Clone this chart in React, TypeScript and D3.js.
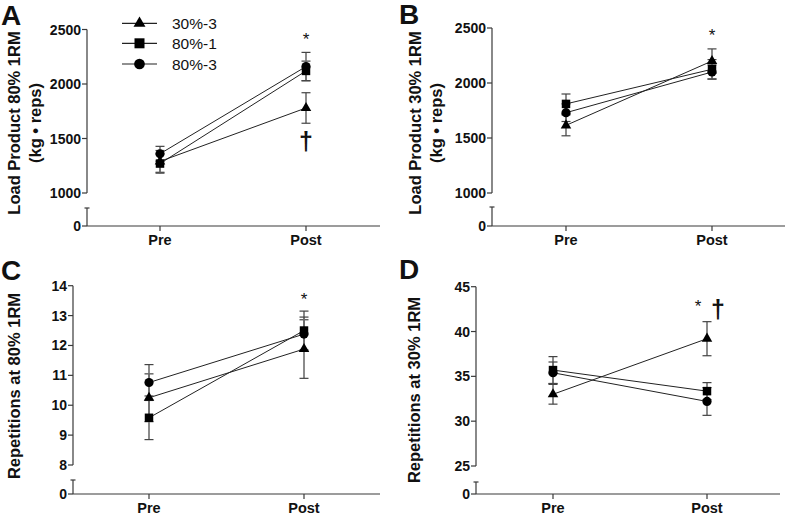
import React from "react";
import * as d3 from "d3";

// ---------- data ----------
const PHASES = ["Pre", "Post"];
const GROUPS = ["30%-3", "80%-1", "80%-3"];
const SYMBOL_TYPES = [d3.symbolTriangle, d3.symbolSquare, d3.symbolCircle];

// Panel A: Load Product 80% 1RM
const A_MEAN_30_3 = [1290, 1780];
const A_SEM_30_3 = [100, 140];
const A_MEAN_80_1 = [1270, 2120];
const A_SEM_80_1 = [88, 90];
const A_MEAN_80_3 = [1360, 2160];
const A_SEM_80_3 = [68, 130];
const A_TICKS = [1000, 1500, 2000, 2500];

// Panel B: Load Product 30% 1RM
const B_MEAN_30_3 = [1615, 2200];
const B_SEM_30_3 = [95, 110];
const B_MEAN_80_1 = [1810, 2125];
const B_SEM_80_1 = [90, 88];
const B_MEAN_80_3 = [1730, 2100];
const B_SEM_80_3 = [80, 65];
const B_TICKS = [1000, 1500, 2000, 2500];

// Panel C: Repetitions at 80% 1RM
const C_MEAN_30_3 = [10.25, 11.88];
const C_SEM_30_3 = [0.8, 0.98];
const C_MEAN_80_1 = [9.58, 12.5];
const C_SEM_80_1 = [0.73, 0.65];
const C_MEAN_80_3 = [10.76, 12.38];
const C_SEM_80_3 = [0.6, 0.57];
const C_TICKS = [8, 9, 10, 11, 12, 13, 14];

// Panel D: Repetitions at 30% 1RM
const D_MEAN_30_3 = [33.0, 39.2];
const D_SEM_30_3 = [1.1, 1.9];
const D_MEAN_80_1 = [35.7, 33.35];
const D_SEM_80_1 = [1.5, 0.95];
const D_MEAN_80_3 = [35.4, 32.2];
const D_SEM_80_3 = [1.2, 1.55];
const D_TICKS = [25, 30, 35, 40, 45];

const FONT = "'Liberation Sans', Arial, sans-serif";

type Layout = {
  letter: string;
  letterX: number;
  letterY: number;
  axisX: number;
  topPx: number;
  lowPx: number;
  breakPx: number;
  zeroPx: number;
  xEnd: number;
  prePx: number;
  postPx: number;
  labelLines: string[];
  labelX: number[];
  labelY: number;
};

type PanelData = {
  means: number[][];
  sems: number[][];
  ticks: number[];
};

function Panel({ layout, data, marks }: { layout: Layout; data: PanelData; marks: React.ReactNode }) {
  const L = layout;
  const ticks = data.ticks;
  const y = d3
    .scaleLinear()
    .domain([ticks[0], ticks[ticks.length - 1]])
    .range([L.lowPx, L.topPx]);
  const x = d3.scalePoint<string>().domain(PHASES).range([L.prePx, L.postPx]);
  const line = d3
    .line<number>()
    .x((_, i) => x(PHASES[i]) as number)
    .y((d) => y(d));
  const axisColor = "#3a3a3a";
  return (
    <g>
      <text x={L.letterX} y={L.letterY} fontFamily={FONT} fontWeight="bold" fontSize={28} fill="#111">
        {L.letter}
      </text>
      {/* y label */}
      {L.labelLines.map((t, i) => (
        <text
          key={i}
          transform={`translate(${L.labelX[i]},${L.labelY}) rotate(-90)`}
          textAnchor="middle"
          dominantBaseline="central"
          fontFamily={FONT}
          fontWeight="bold"
          fontSize={16.5}
          fill="#111"
        >
          {t}
        </text>
      ))}
      {/* y axis upper segment */}
      <line x1={L.axisX} x2={L.axisX} y1={y(ticks[ticks.length - 1])} y2={y(ticks[0])} stroke={axisColor} strokeWidth={1.2} />
      {ticks.map((t) => (
        <g key={t}>
          <line x1={L.axisX - 5} x2={L.axisX} y1={y(t)} y2={y(t)} stroke={axisColor} strokeWidth={1.2} />
          <text
            x={L.axisX - 6}
            y={y(t)}
            textAnchor="end"
            dominantBaseline="central"
            fontFamily={FONT}
            fontWeight="bold"
            fontSize={14}
            fill="#111"
          >
            {t}
          </text>
        </g>
      ))}
      {/* lower segment with zero */}
      <line x1={L.axisX} x2={L.axisX} y1={L.breakPx} y2={L.zeroPx} stroke={axisColor} strokeWidth={1.2} />
      <line x1={L.axisX - 2.5} x2={L.axisX + 2.5} y1={L.breakPx} y2={L.breakPx} stroke={axisColor} strokeWidth={1.2} />
      <line x1={L.axisX - 5} x2={L.axisX} y1={L.zeroPx} y2={L.zeroPx} stroke={axisColor} strokeWidth={1.2} />
      <text x={L.axisX - 6} y={L.zeroPx} textAnchor="end" dominantBaseline="central" fontFamily={FONT} fontWeight="bold" fontSize={14} fill="#111">
        0
      </text>
      {/* x axis */}
      <line x1={L.axisX} x2={L.xEnd} y1={L.zeroPx} y2={L.zeroPx} stroke={axisColor} strokeWidth={1.2} />
      {PHASES.map((p) => (
        <g key={p}>
          <line x1={x(p)} x2={x(p)} y1={L.zeroPx} y2={L.zeroPx + 5} stroke={axisColor} strokeWidth={1.2} />
          <text x={x(p)} y={L.zeroPx + 19} textAnchor="middle" fontFamily={FONT} fontWeight="bold" fontSize={14.5} fill="#111">
            {p}
          </text>
        </g>
      ))}
      {/* lines */}
      {data.means.map((m, gi) => (
        <path key={gi} d={line(m) || ""} fill="none" stroke="#222" strokeWidth={1} />
      ))}
      {/* error bars */}
      {data.means.map((m, gi) =>
        m.map((v, i) => {
          const cx = x(PHASES[i]) as number;
          const hi = y(v + data.sems[gi][i]);
          const lo = y(v - data.sems[gi][i]);
          return (
            <g key={`${gi}-${i}`}>
              <line x1={cx} x2={cx} y1={hi} y2={lo} stroke="#6e6e6e" strokeWidth={1.6} />
              <line x1={cx - 4.5} x2={cx + 4.5} y1={hi} y2={hi} stroke="#444" strokeWidth={1.2} />
              <line x1={cx - 4.5} x2={cx + 4.5} y1={lo} y2={lo} stroke="#444" strokeWidth={1.2} />
            </g>
          );
        })
      )}
      {/* markers */}
      {data.means.map((m, gi) =>
        m.map((v, i) => {
          const size = gi === 0 ? 48 : gi === 1 ? 72 : 66;
          const path = d3.symbol().type(SYMBOL_TYPES[gi]).size(size)() || "";
          return <path key={`${gi}-${i}`} d={path} transform={`translate(${x(PHASES[i])},${y(v)})`} fill="#000" />;
        })
      )}
      {marks}
    </g>
  );
}

function Legend({ x0, x1, textX, rows }: { x0: number; x1: number; textX: number; rows: number[] }) {
  const cx = (x0 + x1) / 2;
  return (
    <g>
      {GROUPS.map((g, i) => {
        const size = i === 0 ? 62 : i === 1 ? 100 : 90;
        const path = d3.symbol().type(SYMBOL_TYPES[i]).size(size)() || "";
        return (
          <g key={g}>
            <line x1={x0} x2={x1} y1={rows[i]} y2={rows[i]} stroke="#222" strokeWidth={1.2} />
            <path d={path} transform={`translate(${cx},${rows[i]})`} fill="#000" />
            <text x={textX} y={rows[i]} dominantBaseline="central" fontFamily={FONT} fontSize={15.5} fill="#111">
              {g}
            </text>
          </g>
        );
      })}
    </g>
  );
}

export default function App() {
  const layoutA: Layout = {
    letter: "A", letterX: 1, letterY: 25,
    axisX: 87, topPx: 29.5, lowPx: 193, breakPx: 208, zeroPx: 226, xEnd: 380,
    prePx: 160, postPx: 306,
    labelLines: ["Load Product 80% 1RM", "(kg \u2022 reps)"], labelX: [14, 35], labelY: 123,
  };
  const layoutB: Layout = {
    letter: "B", letterX: 399, letterY: 24,
    axisX: 492, topPx: 28, lowPx: 193, breakPx: 207, zeroPx: 226, xEnd: 785,
    prePx: 566, postPx: 712,
    labelLines: ["Load Product 30% 1RM", "(kg \u2022 reps)"], labelX: [415, 436], labelY: 123,
  };
  const layoutC: Layout = {
    letter: "C", letterX: 1, letterY: 280,
    axisX: 73, topPx: 285.7, lowPx: 465, breakPx: 480, zeroPx: 494, xEnd: 380,
    prePx: 149, postPx: 304,
    labelLines: ["Repetitions at 80% 1RM"], labelX: [14], labelY: 386,
  };
  const layoutD: Layout = {
    letter: "D", letterX: 399, letterY: 279,
    axisX: 476, topPx: 286.7, lowPx: 466, breakPx: 482, zeroPx: 494, xEnd: 780,
    prePx: 553, postPx: 707,
    labelLines: ["Repetitions at 30% 1RM"], labelX: [414], labelY: 390,
  };

  const dataA: PanelData = {
    means: [A_MEAN_30_3, A_MEAN_80_1, A_MEAN_80_3],
    sems: [A_SEM_30_3, A_SEM_80_1, A_SEM_80_3],
    ticks: A_TICKS,
  };
  const dataB: PanelData = {
    means: [B_MEAN_30_3, B_MEAN_80_1, B_MEAN_80_3],
    sems: [B_SEM_30_3, B_SEM_80_1, B_SEM_80_3],
    ticks: B_TICKS,
  };
  const dataC: PanelData = {
    means: [C_MEAN_30_3, C_MEAN_80_1, C_MEAN_80_3],
    sems: [C_SEM_30_3, C_SEM_80_1, C_SEM_80_3],
    ticks: C_TICKS,
  };
  const dataD: PanelData = {
    means: [D_MEAN_30_3, D_MEAN_80_1, D_MEAN_80_3],
    sems: [D_SEM_30_3, D_SEM_80_1, D_SEM_80_3],
    ticks: D_TICKS,
  };

  const star = (x: number, y: number) => (
    <text x={x} y={y} textAnchor="middle" fontFamily={FONT} fontSize={17} fill="#111">*</text>
  );
  const dagger = (x: number, y: number) => (
    <text x={x} y={y} textAnchor="middle" fontFamily={FONT} fontWeight="bold" fontSize={25} fill="#111">{"\u2020"}</text>
  );

  return (
    <svg
      width={787}
      height={515}
      style={{ position: "absolute", left: 0, top: 0, background: "#fff" }}
    >
      <rect width={787} height={515} fill="#fff" />
      <Panel layout={layoutA} data={dataA} marks={<g>{star(306, 45)}{dagger(306, 150)}</g>} />
      <Legend x0={122} x1={157} textX={172} rows={[23.3, 43.3, 64]} />
      <Panel layout={layoutB} data={dataB} marks={<g>{star(712, 41)}</g>} />
      <Panel layout={layoutC} data={dataC} marks={<g>{star(304, 305)}</g>} />
      <Panel layout={layoutD} data={dataD} marks={<g>{star(698, 312)}{dagger(718, 318)}</g>} />
    </svg>
  );
}
